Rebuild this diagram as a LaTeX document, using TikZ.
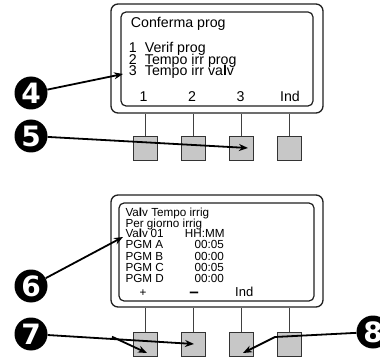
\documentclass[tikz,border=0pt]{standalone}
\usepackage{fontspec}
\setmainfont{Liberation Sans}
\newfontfamily\calloutfont{DejaVu Sans}
\usetikzlibrary{arrows.meta}
\tikzset{
  panel/.style={draw=black!88, line width=1.3pt, rounded corners=7pt, inner sep=0pt},
  screen/.style={draw=black!88, line width=1.2pt, rounded corners=5pt, inner sep=0pt},
  stem/.style={draw=black!75, line width=0.9pt},
  btn/.style={rectangle, draw=black!80, line width=0.9pt, fill=black!22, minimum size=24pt, inner sep=0pt},
  callout/.style={circle, fill=black, minimum size=33pt, inner sep=0pt, text=white,
    font=\calloutfont\bfseries\fontsize{28}{28}\selectfont},
  pointer/.style={draw=black, line width=1.8pt, -{Stealth[length=9pt,width=7pt]}},
  bigtxt/.style={anchor=base west, inner sep=0pt, font=\fontsize{14.2}{14.2}\selectfont},
  bigc/.style={anchor=base, inner sep=0pt, font=\fontsize{14.2}{14.2}\selectfont},
  smalltxt/.style={anchor=base west, inner sep=0pt, font=\fontsize{11.7}{11.7}\selectfont},
  smallc/.style={anchor=base, inner sep=0pt, font=\fontsize{11.7}{11.7}\selectfont},
}
\begin{document}
\begin{tikzpicture}[x=1pt,y=-1pt]
\useasboundingbox (0,0) rectangle (380,358);
\clip (0,0) rectangle (380,358);
\fill[white] (0,0) rectangle (380,358);

% ---------- top panel ----------
\node[panel, minimum width=212pt, minimum height=109pt] (p1) at (217,58.5) {};
\node[screen, minimum width=192pt, minimum height=94pt] (s1) at (217,59) {};
\node[bigtxt] (t1a) at (130.7,27.3) {Conferma prog};
\node[bigtxt] (t1n1) at (128.7,52.7) {1};
\node[bigtxt] (t1b) at (144.7,52.7) {Verif prog};
\node[bigtxt] (t1n2) at (128.7,64.2) {2};
\node[bigtxt] (t1c) at (144.7,64.2) {Tempo irr prog};
\node[bigtxt] (t1n3) at (128.7,75.9) {3};
\node[bigtxt] (t1d) at (144.7,75.9) {Tempo irr va\textbf{l}v};
\node[bigc] (k1) at (143.5,101.7) {1};
\node[bigc] (k2) at (192,101.7) {2};
\node[bigc] (k3) at (240.5,101.7) {3};
\node[bigc] (k4) at (290,101.7) {Ind};

\foreach \i/\x in {1/145,2/193,3/241,4/289}{
  \node[btn] (b\i) at (\x,148) {};
  \draw[stem] (b\i.north) -- (b\i.north |- p1.south);
}

% ---------- bottom panel ----------
\node[panel, minimum width=212pt, minimum height=112pt] (p2) at (217,251) {};
\node[screen, minimum width=195pt, minimum height=98pt] (s2) at (216.5,252) {};
\node[smalltxt] (u1) at (125.3,216.7) {Va\textbf{l}v Tempo irrig};
\node[smalltxt] (u2) at (125.3,227.3) {Per giorno irrig};
\node[smalltxt] (u3) at (125.3,237.7) {Va\textbf{l}v};
\node[smalltxt] (u3b) at (150.5,237.7) {01};
\node[smalltxt] (u3c) at (184.7,237.7) {HH:MM};
\node[smalltxt] (u4) at (125.3,248.3) {PGM A};
\node[smalltxt] (u4b) at (194.5,248.3) {00:05};
\node[smalltxt] (u5) at (125.3,260) {PGM B};
\node[smalltxt] (u5b) at (194.5,260) {00:00};
\node[smalltxt] (u6) at (125.3,271.7) {PGM C};
\node[smalltxt] (u6b) at (194.5,271.7) {00:05};
\node[smalltxt] (u7) at (125.3,282.7) {PGM D};
\node[smalltxt] (u7b) at (194.5,282.7) {00:00};
\node[smallc] (m1) at (143,296) {+};
\node[inner sep=0pt, font=\bfseries\fontsize{17}{17}\selectfont] (m2) at (194,295) {–};
\node[smalltxt, font=\fontsize{13}{13}\selectfont] (m3) at (235,296.5) {Ind};

\foreach \i/\x in {5/145,6/193,7/241,8/289}{
  \node[btn] (b\i) at (\x,344) {};
  \draw[stem] (b\i.north) -- (b\i.north |- p2.south);
}

% ---------- callouts ----------
\node[callout] (c4) at (31,93) {4};
\node[callout] (c5) at (31,136) {5};
\node[callout] (c6) at (31,286) {6};
\node[callout] (c7) at (31,334) {7};
\node[callout] (c8) at (373,332) {8};

\coordinate (a4) at (123,74);
\coordinate (a5) at (248,148);
\coordinate (a6) at (123,237);
\coordinate (a7b) at (194,344);
\coordinate (s7) at (112,336.7);
\coordinate (a7a) at (147,353);
\coordinate (k8) at (275,337);
\coordinate (a8) at (243,353);

\draw[pointer] (c4) -- (a4);
\draw[pointer] (c5) -- (a5);
\draw[pointer] (c6) -- (a6);
\draw[pointer] (c7) -- (a7b);
\draw[pointer] (s7) -- (a7a);
\draw[pointer] (c8) -- (k8) -- (a8);
\end{tikzpicture}
\end{document}
